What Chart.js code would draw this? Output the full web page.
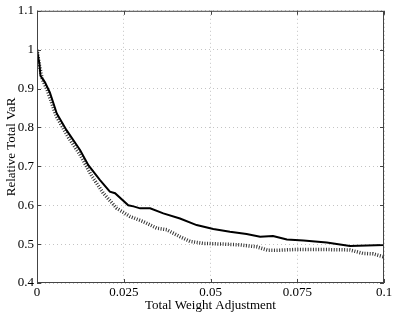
<!DOCTYPE html>
<html>
<head>
<meta charset="utf-8">
<script src="https://cdn.jsdelivr.net/npm/chart.js@4/dist/chart.umd.min.js"></script>
<style>
html,body{margin:0;padding:0;background:#fff;}
#wrap{width:395px;height:313px;position:relative;}
</style>
</head>
<body>
<div id="wrap"><canvas id="c" width="395" height="313"></canvas></div>
<script>
const xTicks = [0, 0.025, 0.05, 0.075, 0.1];
const yTicks = [0.4, 0.5, 0.6, 0.7, 0.8, 0.9, 1, 1.1];

const solidX = [0, 0.0007, 0.001, 0.0023, 0.0037, 0.0057, 0.0085, 0.0124, 0.0148, 0.0181, 0.021, 0.0225, 0.0263, 0.0278, 0.0297, 0.0326, 0.0364, 0.0412, 0.046, 0.0508, 0.0556, 0.0604, 0.0643, 0.068, 0.072, 0.0768, 0.0835, 0.0902, 0.1];
const solidY = [1.0, 0.963, 0.933, 0.916, 0.89, 0.836, 0.793, 0.742, 0.703, 0.665, 0.635, 0.631, 0.60, 0.597, 0.592, 0.592, 0.579, 0.566, 0.549, 0.539, 0.532, 0.526, 0.519, 0.521, 0.512, 0.509, 0.504, 0.495, 0.498];

const dottedX = [0, 0.0007, 0.0015, 0.003, 0.0055, 0.009, 0.0124, 0.0158, 0.0191, 0.023, 0.0268, 0.0306, 0.0345, 0.0374, 0.0412, 0.0441, 0.0479, 0.0537, 0.0585, 0.0633, 0.0666, 0.0691, 0.074, 0.0835, 0.0902, 0.094, 0.0969, 0.1];
const dottedY = [1.0, 0.96, 0.925, 0.895, 0.83, 0.775, 0.73, 0.675, 0.631, 0.592, 0.571, 0.558, 0.541, 0.537, 0.519, 0.507, 0.502, 0.50, 0.498, 0.493, 0.484, 0.484, 0.486, 0.486, 0.485, 0.476, 0.475, 0.467];

const xTitle = "Total Weight Adjustment";
const yTitle = "Relative Total VaR";

const fmt = v => String(Math.round(v * 1000) / 1000);
const font = {family: "'Liberation Serif', 'DejaVu Serif', serif", size: 13};

const frame = {
  id: 'frame',
  afterDraw(chart) {
    const {ctx, chartArea: a, scales} = chart;
    ctx.save();
    ctx.strokeStyle = '#444';
    ctx.lineWidth = 1;
    ctx.strokeRect(a.left + 0.5, a.top + 0.5, a.right - a.left - 1, a.bottom - a.top - 1);
    const L = 4;
    ctx.beginPath();
    xTicks.forEach(v => {
      const px = Math.round(scales.x.getPixelForValue(v)) + 0.5;
      ctx.moveTo(px, a.bottom); ctx.lineTo(px, a.bottom - L);
      ctx.moveTo(px, a.top); ctx.lineTo(px, a.top + L);
    });
    yTicks.forEach(v => {
      const py = Math.round(scales.y.getPixelForValue(v)) + 0.5;
      ctx.moveTo(a.left, py); ctx.lineTo(a.left + L, py);
      ctx.moveTo(a.right, py); ctx.lineTo(a.right - L, py);
    });
    ctx.stroke();
    ctx.restore();
  }
};

new Chart(document.getElementById('c'), {
  type: 'line',
  data: {
    datasets: [
      {
        label: 'solid',
        data: solidX.map((x, i) => ({x, y: solidY[i]})),
        borderColor: '#000',
        borderWidth: 2,
        pointRadius: 0,
        tension: 0,
        fill: false
      },
      {
        label: 'dotted',
        data: dottedX.map((x, i) => ({x, y: dottedY[i]})),
        borderColor: '#333',
        borderWidth: 3.5,
        borderDash: [1, 1.6],
        pointRadius: 0,
        tension: 0,
        fill: false
      }
    ]
  },
  plugins: [frame],
  options: {
    responsive: false,
    animation: false,
    events: [],
    layout: {padding: {top: 10, right: 11, left: 0, bottom: 0}},
    plugins: {legend: {display: false}, tooltip: {enabled: false}},
    scales: {
      x: {
        type: 'linear',
        min: 0, max: 0.1,
        afterBuildTicks: s => { s.ticks = xTicks.map(v => ({value: v})); },
        afterFit: s => { s.height = 30; },
        ticks: {callback: v => fmt(v), color: '#000', font, padding: 2, maxRotation: 0},
        grid: {color: '#c4c4c4', drawTicks: false, lineWidth: 1},
        border: {display: false, dash: [1, 3]},
        title: {display: true, text: xTitle, color: '#000', font, padding: {top: 0, bottom: 0}}
      },
      y: {
        type: 'linear',
        min: 0.4, max: 1.1,
        afterBuildTicks: s => { s.ticks = yTicks.map(v => ({value: v})); },
        afterFit: s => { s.width = 37; },
        ticks: {callback: v => fmt(v), color: '#000', font, padding: 3},
        grid: {color: '#c4c4c4', drawTicks: false, lineWidth: 1},
        border: {display: false, dash: [1, 3]},
        title: {display: true, text: yTitle, color: '#000', font, padding: {top: 4, bottom: 0}}
      }
    }
  }
});
</script>
</body>
</html>
